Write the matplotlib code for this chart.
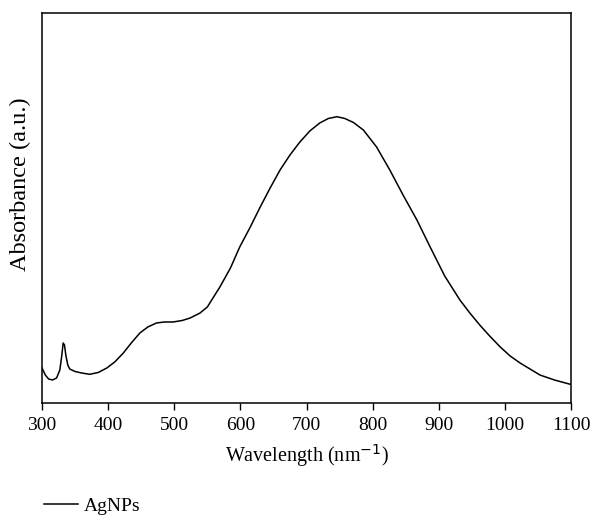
import matplotlib
matplotlib.use("Agg")
import matplotlib.pyplot as plt

wavelength = [300, 305, 310, 316, 322, 327, 330, 332, 334, 336, 339, 342, 350, 360, 372, 385, 398,
              410, 423, 435, 448, 460, 473, 485, 498, 512, 524, 539, 550, 569, 585, 599, 615,
              630, 645, 660, 675, 690, 705, 720, 733, 746, 758, 771, 786, 806, 826, 846, 867,
              887, 909, 932, 947, 962, 977, 993, 1008, 1023, 1038, 1053, 1075, 1100]
absorbance = [35, 28, 24, 23, 25, 33, 48, 60, 58, 48, 38, 34, 31.5, 30, 28.7, 30.5, 35,
              41, 50, 60, 70, 76, 80, 81, 81, 82.5, 85, 90, 96, 116, 135, 156, 176,
              196, 215, 233, 248, 261, 272, 280, 284.5, 286.3, 284.5, 280.5, 273, 256, 233, 208, 183,
              156, 127, 103, 90, 78, 67, 56, 47, 40, 34, 28, 23, 18.5]

plt.rcParams['font.family'] = ['Liberation Serif', 'DejaVu Serif']

fig = plt.figure(figsize=(5.91, 5.17), dpi=100)
ax = fig.add_axes([42/591, 1-403/517, (571-42)/591, (403-13)/517])
line, = ax.plot(wavelength, absorbance, color='black', lw=1.1, label='AgNPs')
ax.set_xlim(300, 1100)
ax.set_ylim(0, 390)
ax.set_xticks([300, 400, 500, 600, 700, 800, 900, 1000, 1100])
ax.set_yticks([])
ax.tick_params(axis='x', direction='out', length=5, width=1, labelsize=14, pad=5)
for s in ax.spines.values():
    s.set_linewidth(1.1)
ax.set_xlabel('Wavelength (nm$^{-1}$)', fontsize=14.5, labelpad=6)
ax.set_ylabel('Absorbance (a.u.)', fontsize=17.5)
ax.yaxis.set_label_coords(-0.02, 0.56)
fig.legend(handles=[line], loc='lower left', bbox_to_anchor=(0.0448, -0.03), frameon=False,
           fontsize=14, handlelength=1.75, handletextpad=0.3)
fig.savefig('out.png', dpi=100)
